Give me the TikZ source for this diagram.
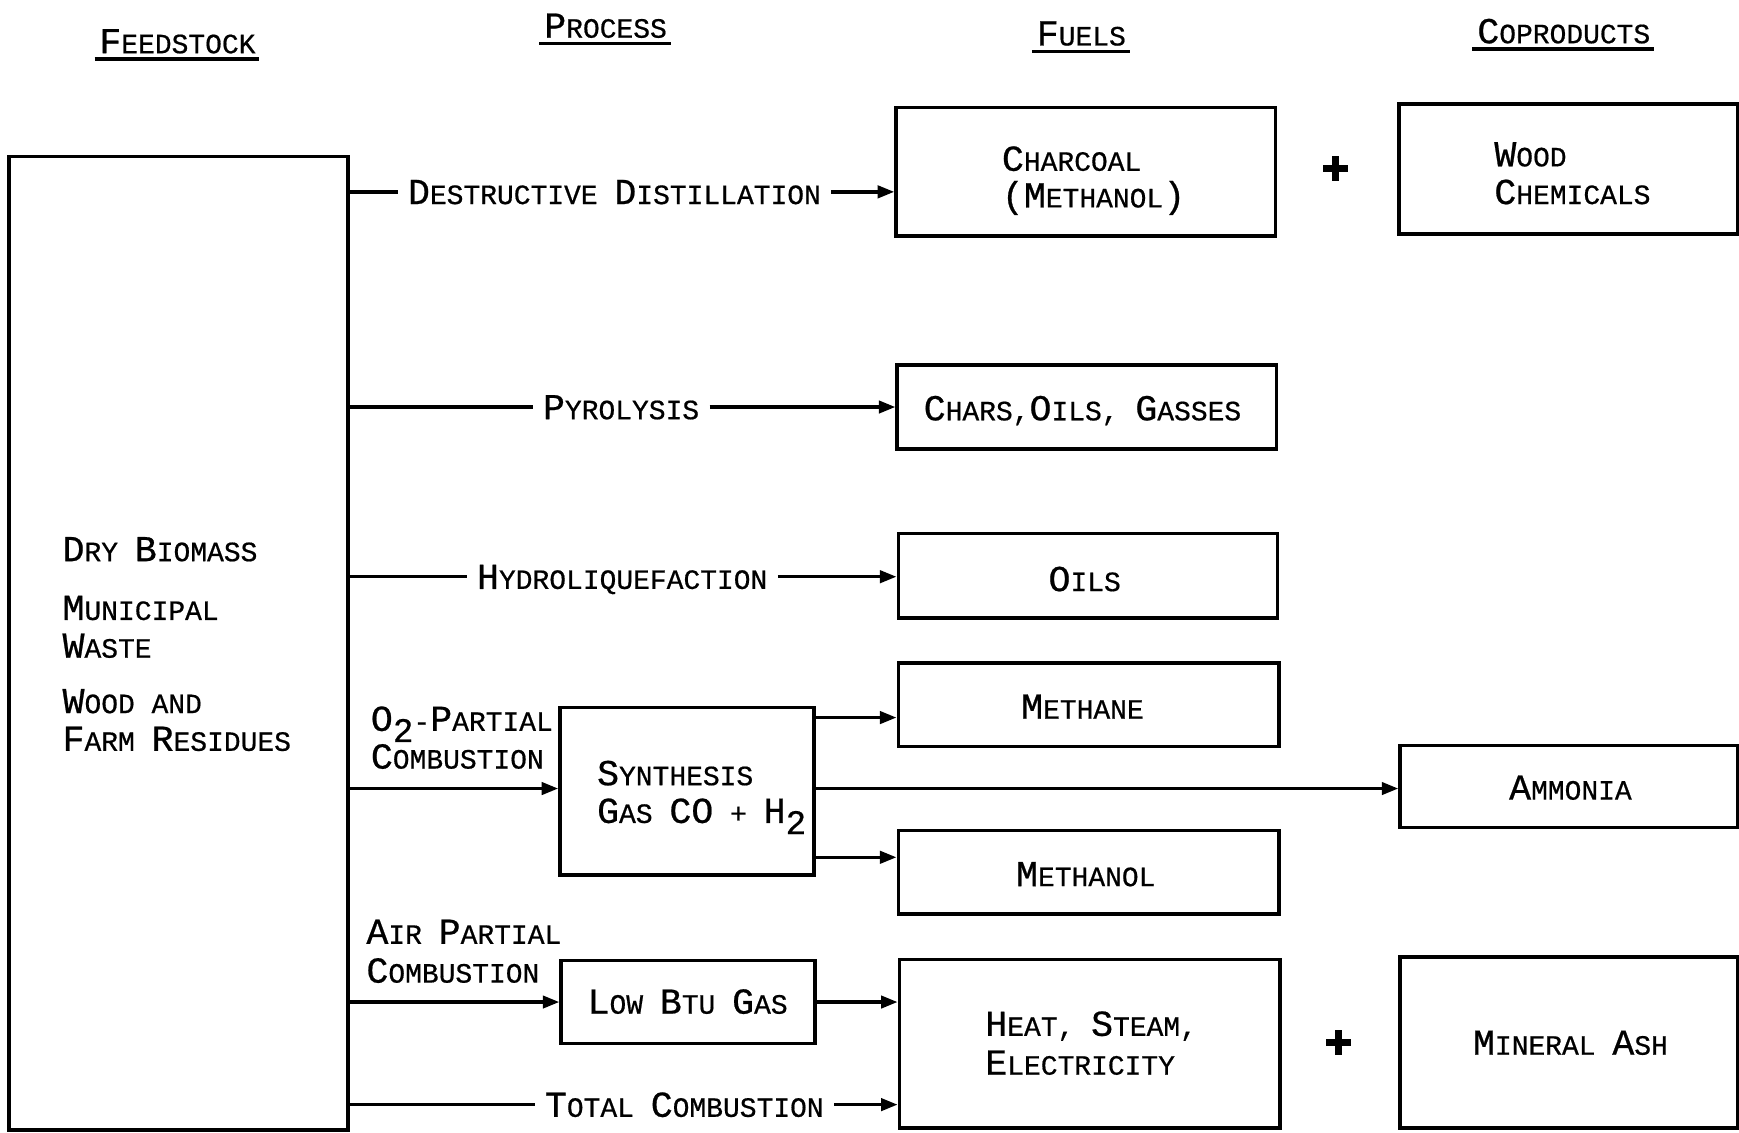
\documentclass[tikz,border=0pt]{standalone}
\usepackage{fontspec}
\setmainfont{Liberation Mono}[FakeBold=0.6]
\usetikzlibrary{arrows.meta,calc}
\newcommand\Bg[1]{{\fontsize{16.5}{16.5}\selectfont #1}}
\newcommand\Sub[1]{\raisebox{-5pt}{\fontsize{15.5}{15.5}\selectfont #1}}
\tikzset{
  x=0.5pt, y=-0.5pt,
  line/.style={line width=1.6pt},
  arr/.style={line width=1.6pt, -{Triangle[length=7.5pt,width=5.5pt]}},
  box/.style={draw, line width=1.6pt, inner sep=0pt},
  txt/.style={font=\fontsize{12.6}{15}\selectfont, inner sep=0pt, text height=11pt, text depth=0pt},
  txtw/.style={txt, anchor=west},
  proc/.style={txt, inner xsep=4.5pt},
  plus/.style={line width=3.4pt},
}
\begin{document}
\begin{tikzpicture}
\useasboundingbox (0,0) rectangle (1568,1021);

% headings
\node[txt] (hfeed) at (160,37) {\Bg{F}EEDSTOCK};
\node[txt] (hproc) at (546,23) {\Bg{P}ROCESS};
\node[txt] (hfuel) at (975,30) {\Bg{F}UELS};
\node[txt] (hcop) at (1410,28) {\Bg{C}OPRODUCTS};
\foreach \h in {hfeed,hproc,hfuel,hcop}
  \draw[line] ($(\h.south west)+(-4,5)$) -- ($(\h.south east)+(3,5)$);

% feedstock
\node[box, minimum width=153pt, minimum height=439pt] (feed) at (161,580) {};
\node[txtw] (f1) at (56,495) {\Bg{D}RY \Bg{B}IOMASS};
\node[txtw] (f2) at (56,548) {\Bg{M}UNICIPAL};
\node[txtw] (f3) at (56,582) {\Bg{W}ASTE};
\node[txtw] (f4) at (56,632) {\Bg{W}OOD AND};
\node[txtw] (f5) at (56,666) {\Bg{F}ARM \Bg{R}ESIDUES};

% fuel boxes
\node[box, minimum width=171pt, minimum height=58pt] (charcoal) at (979,155) {};
\node[txtw] (tc1) at (903,143) {\Bg{C}HARCOAL};
\node[txtw] (tc2) at (903,176) {\Bg{(M}ETHANOL\Bg{)}};
\node[box, minimum width=171pt, minimum height=38pt] (chars) at (980,367) {};
\node[txt] (tchars) at (976,368) {\Bg{C}HARS,\Bg{O}ILS, \Bg{G}ASSES};
\node[box, minimum width=171pt, minimum height=38pt] (oils) at (981,519) {};
\node[txt] (toils) at (978,522) {\Bg{O}ILS};
\node[box, minimum width=171.5pt, minimum height=37.5pt] (methane) at (981.5,635.5) {};
\node[txt] (tmethane) at (976,637) {\Bg{M}ETHANE};
\node[box, minimum width=171.5pt, minimum height=37.5pt] (methanol) at (981.5,786.5) {};
\node[txt] (tmethanol) at (979,788) {\Bg{M}ETHANOL};
\node[box, minimum width=171.5pt, minimum height=76pt] (heat) at (982.5,941) {};
\node[txtw] (th1) at (888,923) {\Bg{H}EAT, \Bg{S}TEAM,};
\node[txtw] (th2) at (888,958) {\Bg{E}LECTRICITY};

% process boxes
\node[box, minimum width=114.5pt, minimum height=75.5pt] (synth) at (619.5,713.5) {};
\node[txtw] (ts1) at (538,697) {\Bg{S}YNTHESIS};
\node[txtw] (ts2) at (538,731) {\Bg{G}AS \Bg{CO} + \Bg{H}\Sub{2}};
\node[box, minimum width=114.5pt, minimum height=37.5pt] (lowbtu) at (620.5,903.5) {};
\node[txt] (tlow) at (620,903) {\Bg{L}OW \Bg{B}TU \Bg{G}AS};

% coproducts
\node[box, minimum width=152.5pt, minimum height=58.5pt] (wood) at (1414,152.5) {};
\node[txtw] (tw1) at (1347,139) {\Bg{W}OOD};
\node[txtw] (tw2) at (1347,173) {\Bg{C}HEMICALS};
\node[box, minimum width=152pt, minimum height=37pt] (ammonia) at (1414.5,709) {};
\node[txt] (tamm) at (1416,710) {\Bg{A}MMONIA};
\node[box, minimum width=152pt, minimum height=77pt] (ash) at (1414.5,940) {};
\node[txt] (tash) at (1416,940) {\Bg{M}INERAL \Bg{A}SH};

% plus signs
\coordinate (plus1) at (1204,152);
\coordinate (plus2) at (1207,940);
\foreach \p in {plus1,plus2}
  \draw[plus] ($(\p)+(-11,0)$) -- ($(\p)+(11,0)$) ($(\p)+(0,-11)$) -- ($(\p)+(0,11)$);

% process labels
\node[proc] (pdd) at (554,173) {\Bg{D}ESTRUCTIVE \Bg{D}ISTILLATION};
\node[proc] (ppy) at (560,367) {\Bg{P}YROLYSIS};
\node[proc] (phy) at (561,520) {\Bg{H}YDROLIQUEFACTION};
\node[proc] (ptc) at (617,996) {\Bg{T}OTAL \Bg{C}OMBUSTION};
\node[txtw] (po1) at (334,648) {\Bg{O}\Sub{2}-\Bg{P}ARTIAL};
\node[txtw] (po2) at (334,682) {\Bg{C}OMBUSTION};
\node[txtw] (pa1) at (330,840) {\Bg{A}IR \Bg{P}ARTIAL};
\node[txtw] (pa2) at (330,875) {\Bg{C}OMBUSTION};

% connectors
\coordinate (s1) at (0,647);
\coordinate (s2) at (0,711);
\coordinate (s3) at (0,773);
\draw[line] (feed.east |- pdd) -- (pdd.west);
\draw[arr] (pdd.east) -- (charcoal.west |- pdd.east);
\draw[line] (feed.east |- ppy) -- (ppy.west);
\draw[arr] (ppy.east) -- (chars.west |- ppy.east);
\draw[line] (feed.east |- phy) -- (phy.west);
\draw[arr] (phy.east) -- (oils.west |- phy.east);
\draw[line] (feed.east |- ptc) -- (ptc.west);
\draw[arr] (ptc.east) -- (heat.west |- ptc.east);
\draw[arr] (feed.east |- s2) -- (synth.west |- s2);
\draw[arr] (feed.east |- lowbtu.west) -- (lowbtu.west);
\draw[arr] (synth.east |- s1) -- (methane.west |- s1);
\draw[arr] (synth.east |- s2) -- (ammonia.west |- s2);
\draw[arr] (synth.east |- s3) -- (methanol.west |- s3);
\draw[arr] (lowbtu.east) -- (heat.west |- lowbtu.east);
\end{tikzpicture}
\end{document}
